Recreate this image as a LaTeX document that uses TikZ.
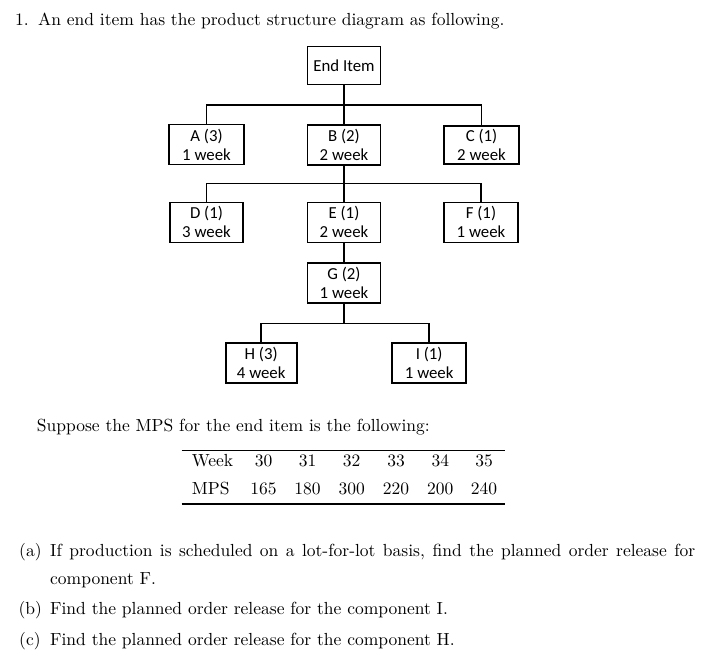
\documentclass[tikz,border=0pt]{standalone}
\usepackage{fontspec}
\usepackage{graphicx}
\newfontfamily\carlito{Carlito}
\newcommand\mytxt[1]{\scalebox{1.75}{#1}}
\tikzset{
  part/.style={draw, line width=1.6pt, inner sep=0pt, align=center,
    font=\carlito\fontsize{16.8}{19}\selectfont},
  link/.style={line width=1.6pt},
  txt/.style={anchor=base west, inner sep=0pt},
  num/.style={anchor=base, inner sep=0pt},
  rule/.style={line width=1.1pt}
}
\begin{document}
\begin{tikzpicture}[x=1pt,y=-1pt]
\path[use as bounding box, fill=white] (0,0) rectangle (713,653);

% title
\node[txt] (n1) at (15,25) {\mytxt{1.}};
\node[txt] (t1) at (38,25) {\mytxt{An end item has the product structure diagram as following.}};

% product structure
\node[part, minimum width=73pt, minimum height=38pt] (end) at (344,65.5) {End Item};
\node[part, minimum width=75pt, minimum height=40pt] (A) at (206.5,144.5) {A (3)\\1 week};
\node[part, minimum width=73pt, minimum height=40pt] (B) at (344,145) {B (2)\\2 week};
\node[part, minimum width=75pt, minimum height=38pt] (C) at (481.5,145) {C (1)\\2 week};
\node[part, minimum width=73pt, minimum height=40pt] (D) at (206.5,222.3) {D (1)\\3 week};
\node[part, minimum width=73pt, minimum height=40pt] (E) at (344,222.3) {E (1)\\2 week};
\node[part, minimum width=74pt, minimum height=40pt] (F) at (481,222.3) {F (1)\\1 week};
\node[part, minimum width=73pt, minimum height=39.5pt] (G) at (344,283) {G (2)\\1 week};
\node[part, minimum width=71pt, minimum height=39.5pt] (H) at (261.2,363) {H (3)\\4 week};
\node[part, minimum width=74pt, minimum height=39.5pt] (I) at (429.2,363) {I (1)\\1 week};

\coordinate (j1) at (344,105);
\coordinate (j2) at (344,183.3);
\coordinate (j3) at (344,323.3);
\draw[link] (end.south) -- (j1);
\draw[link] (j1) -- (B.north);
\draw[link] (j1) -| (A.north);
\draw[link] (j1) -| (C.north);
\draw[link] (B.south) -- (j2);
\draw[link] (j2) -- (E.north);
\draw[link] (j2) -| (D.north);
\draw[link] (j2) -| (F.north);
\draw[link] (E.south) -- (G.north);
\draw[link] (G.south) -- (j3);
\draw[link] (j3) -| (H.north);
\draw[link] (j3) -| (I.north);

% MPS sentence
\node[txt] (t2) at (36.7,431) {\mytxt{Suppose the MPS for the end item is the following:}};

% table
\coordinate (r1a) at (181.7,450.7);
\coordinate (r1b) at (505,450.7);
\coordinate (r2a) at (181.7,504);
\coordinate (r2b) at (505,504);
\draw[rule] (r1a) -- (r1b);
\draw[rule, line width=1.6pt] (r2a) -- (r2b);
\node[txt] (wk) at (191.7,466) {\mytxt{Week}};
\node[txt] (mps) at (191.7,494.5) {\mytxt{MPS}};
\node[num] (w30) at (263.5,466) {\mytxt{30}};
\node[num] (w31) at (307.5,466) {\mytxt{31}};
\node[num] (w32) at (351.7,466) {\mytxt{32}};
\node[num] (w33) at (396,466) {\mytxt{33}};
\node[num] (w34) at (440.3,466) {\mytxt{34}};
\node[num] (w35) at (484,466) {\mytxt{35}};
\node[num] (m30) at (263.5,494.5) {\mytxt{165}};
\node[num] (m31) at (307.5,494.5) {\mytxt{180}};
\node[num] (m32) at (351.7,494.5) {\mytxt{300}};
\node[num] (m33) at (396,494.5) {\mytxt{220}};
\node[num] (m34) at (440.3,494.5) {\mytxt{200}};
\node[num] (m35) at (484,494.5) {\mytxt{240}};

% questions
\node[txt] (la) at (19,556.5) {\mytxt{(a)}};
\node[txt] (qa1) at (50,556.5) {\mytxt{\makebox[368.6pt][s]{If production is scheduled on a lot-for-lot basis, find the planned order release for}}};
\node[txt] (qa2) at (50,584) {\mytxt{component F.}};
\node[txt] (lb) at (18.3,614) {\mytxt{(b)}};
\node[txt] (qb) at (50,614) {\mytxt{Find the planned order release for the component I.}};
\node[txt] (lc) at (19,645) {\mytxt{(c)}};
\node[txt] (qc) at (50,645) {\mytxt{Find the planned order release for the component H.}};
\end{tikzpicture}
\end{document}
